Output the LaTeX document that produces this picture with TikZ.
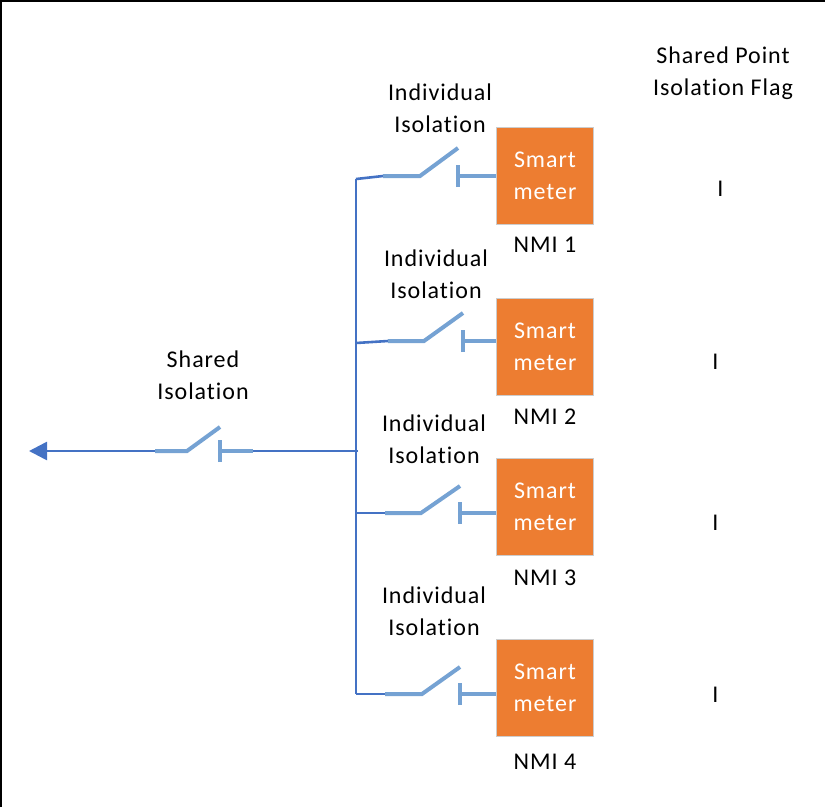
\documentclass[tikz,border=0pt]{standalone}
\usepackage{fontspec}
\setmainfont[LetterSpace=4,Ligatures={NoCommon}]{Carlito}
\usepackage{xcolor}
\usepackage{tikz}
\usetikzlibrary{positioning, arrows.meta}
\definecolor{meterorange}{HTML}{ED7D31}
\definecolor{busblue}{HTML}{4472C4}
\definecolor{switchblue}{HTML}{75A2D3}

\begin{document}
\begin{tikzpicture}[
    x=1pt, y=-1pt,
    node distance=0pt,
    meter/.style={rectangle, draw=black!20, fill=meterorange, minimum size=97pt, inner sep=0pt, align=center, text=white, font=\fontsize{24}{32}\selectfont},
    caption/.style={align=center, inner sep=0pt, font=\fontsize{24}{32}\selectfont},
    bus/.style={draw=busblue, line width=2.6pt},
    switchline/.style={draw=switchblue, line width=4pt}
]

% Frame
\useasboundingbox (0,0) rectangle (825,807);
\draw[line width=2.5pt] (1,807) -- (1,1) -- (825,1);

% Meters
\node[meter] (meter1) at (545,175.5) {Smart\\meter};
\node[meter] (meter2) at (545,346.5) {Smart\\meter};
\node[meter] (meter3) at (545,507) {Smart\\meter};
\node[meter] (meter4) at (545,688) {Smart\\meter};

% Meter names
\node[caption] (nmi1) at (545,245) {NMI 1};
\node[caption] (nmi2) at (545,417) {NMI 2};
\node[caption] (nmi3) at (545,578) {NMI 3};
\node[caption] (nmi4) at (545,762) {NMI 4};

% Isolation labels
\node[caption] (indiv1) at (440,108) {Individual\\Isolation};
\node[caption] (indiv2) at (436,274) {Individual\\Isolation};
\node[caption] (indiv3) at (434,439) {Individual\\Isolation};
\node[caption] (indiv4) at (434,611) {Individual\\Isolation};
\node[caption] (shared) at (203,375) {Shared\\Isolation};

% Flag column
\node[caption] (flagtitle) at (723,73) {Shared Point\\Isolation Flag};
\node[caption] (flag1) at (720.5,189) {I};
\node[caption] (flag2) at (715.5,362) {I};
\node[caption] (flag3) at (715.5,523) {I};
\node[caption] (flag4) at (715.5,695) {I};

% Bus points
\coordinate (busA) at (356,179);
\coordinate (busB) at (356,343);
\coordinate (busC) at (356,513);
\coordinate (busD) at (356,694);
\coordinate (busS) at (358,451);
\coordinate (feed) at (29,451);

% Switch 1
\coordinate (a1) at (383,176);
\coordinate (b1) at (420,176);
\coordinate (c1) at (458,148);
\coordinate (d1) at (458,176);

% Switch 2
\coordinate (a2) at (388,341);
\coordinate (b2) at (424,341);
\coordinate (c2) at (463,313);
\coordinate (d2) at (463,341);

% Switch 3
\coordinate (a3) at (385,513);
\coordinate (b3) at (421,513);
\coordinate (c3) at (460,486);
\coordinate (d3) at (460,513);

% Switch 4
\coordinate (a4) at (385,694);
\coordinate (b4) at (422,694);
\coordinate (c4) at (460,667);
\coordinate (d4) at (460,694);

% Shared switch
\coordinate (a5) at (155,451);
\coordinate (b5) at (187,451);
\coordinate (c5) at (220,427);
\coordinate (d5) at (220,451);
\coordinate (e5) at (253,451);

% Bus and feed
\draw[bus] (busA) -- (busD);
\draw[bus] (busA) -- (a1);
\draw[bus] (busB) -- (a2);
\draw[bus] (busC) -- (a3);
\draw[bus] (busD) -- (a4);
\draw[bus] (busS) -- (e5);
\draw[bus, -{Triangle[length=18pt, width=18pt]}] (a5) -- (feed);

% Switches
\draw[switchline] (a1) -- (b1) -- (c1);
\draw[switchline] (d1) -- (meter1.west |- d1);
\draw[switchline] ([yshift=-11pt]d1) -- ([yshift=11pt]d1);
\draw[switchline] (a2) -- (b2) -- (c2);
\draw[switchline] (d2) -- (meter2.west |- d2);
\draw[switchline] ([yshift=-11pt]d2) -- ([yshift=11pt]d2);
\draw[switchline] (a3) -- (b3) -- (c3);
\draw[switchline] (d3) -- (meter3.west |- d3);
\draw[switchline] ([yshift=-11pt]d3) -- ([yshift=11pt]d3);
\draw[switchline] (a4) -- (b4) -- (c4);
\draw[switchline] (d4) -- (meter4.west |- d4);
\draw[switchline] ([yshift=-11pt]d4) -- ([yshift=11pt]d4);
\draw[switchline] (a5) -- (b5) -- (c5);
\draw[switchline] (d5) -- (e5);
\draw[switchline] ([yshift=-11pt]d5) -- ([yshift=11pt]d5);

\end{tikzpicture}
\end{document}
